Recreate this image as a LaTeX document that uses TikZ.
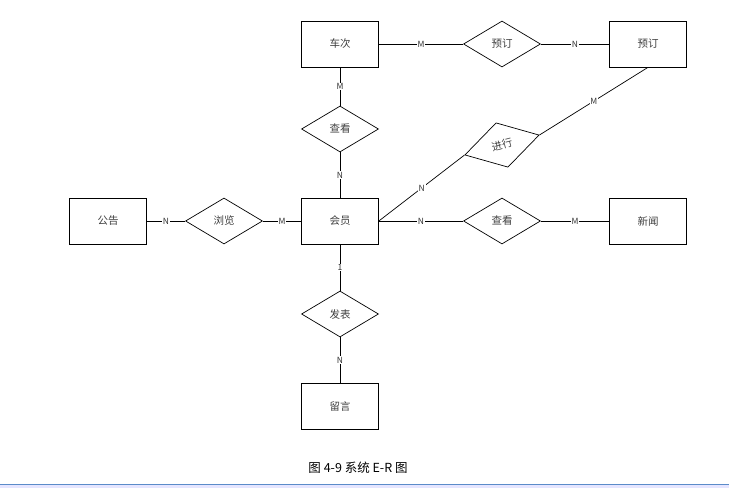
\documentclass[tikz,border=0pt]{standalone}
\usepackage{fontspec}
\usepackage{tikz}
\usetikzlibrary{shapes.geometric}
\newfontfamily\cjk{Noto Sans CJK SC}

\begin{document}
\begin{tikzpicture}[x=1pt,y=-1pt,line width=0.7pt,
  ent node/.style={rectangle,draw,fill=white,minimum width=77pt,minimum height=46pt,
    text=black!75,font=\cjk\fontsize{10.5}{12}\selectfont},
  rel node/.style={diamond,draw,fill=white,minimum width=77pt,minimum height=46pt,
    inner sep=0pt,text=black!75,font=\cjk\fontsize{10.5}{12}\selectfont}]

  \useasboundingbox (0,0) rectangle (729,488);

  \node[ent node] (cc) at (340,44) {车次};
  \node[rel node] (yd) at (502,44) {预订};
  \node[ent node] (ydb) at (648,44) {预订};
  \node[rel node] (ck1) at (340,129) {查看};
  \node[ent node] (hy) at (340,221) {会员};
  \node[ent node] (gg) at (108,221) {公告};
  \node[rel node] (ll) at (224,221) {浏览};
  \node[rel node] (ck2) at (502,221) {查看};
  \node[ent node] (xw) at (648,221) {新闻};
  \node[rel node] (fb) at (340,314) {发表};
  \node[ent node] (ly) at (340,406) {留言};
  \node[rel node,rotate=15] (jx) at (502,145) {进行};

  \path[every node/.style={fill=white,inner sep=0.8pt,text=black!80,font=\cjk\fontsize{8.5}{9}\selectfont}]
    (cc) edge node {M} (yd)
    (yd) edge node {N} (ydb)
    (cc) edge node {M} (ck1)
    (ck1) edge node {N} (hy)
    (gg) edge node {N} (ll)
    (ll) edge node {M} (hy)
    (hy) edge node {N} (ck2)
    (ck2) edge node {M} (xw)
    (hy) edge node {1} (fb)
    (fb) edge node {N} (ly)
    (hy.east) edge node {N} (jx.west)
    (jx.east) edge node {M} (ydb.south)
    ;

  % caption and page rule
  \node[font=\cjk\fontsize{12.5}{14}\selectfont] (cap) at (358,468) {图 4-9 系统 E-R 图};
  \fill[blue!10] (0,485) rectangle (729,488);
  \draw[color={rgb,255:red,91;green,139;blue,201},line width=1.2pt] (0,484.5) -- (729,484.5);

\end{tikzpicture}
\end{document}
